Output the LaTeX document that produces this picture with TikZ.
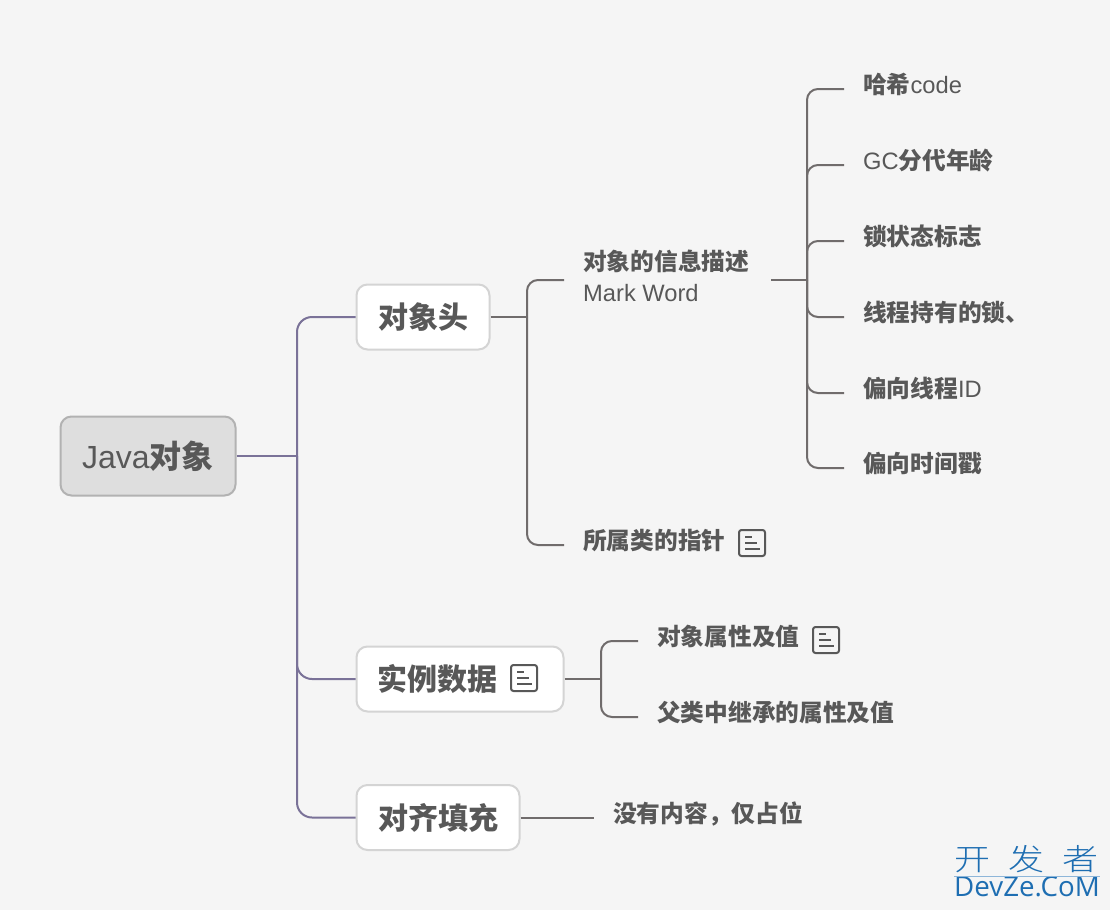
\documentclass[tikz,border=0pt]{standalone}
\usepackage{fontspec}
\setmainfont{Liberation Sans}
\newfontfamily\cjk{Noto Sans CJK SC}
\newfontfamily\cjkthin{Noto Sans CJK SC Light}
\newfontfamily\wmlatin{Open Sans}
\newcommand{\zh}[1]{{\cjk\bfseries #1}}
\newlength{\du}
\setlength{\du}{1pt}
\definecolor{pagecolor}{RGB}{245,245,245}
\definecolor{inkcolor}{RGB}{88,88,88}
\definecolor{trunkcolor}{RGB}{122,114,152}
\definecolor{twigcolor}{RGB}{112,108,108}
\definecolor{wmcolor}{RGB}{30,110,178}
\tikzset{
  rootbox/.style={draw=black!30,fill=black!13,line width=2\du,rounded corners=11\du,inner sep=0pt,
    minimum width=175\du,minimum height=79\du,text=inkcolor,font=\fontsize{32}{36}\selectfont},
  mainbox/.style={draw=black!17,fill=white,line width=2\du,rounded corners=11\du,inner sep=0pt,
    minimum height=65\du,text=inkcolor,font=\fontsize{30}{34}\selectfont},
  leaftext/.style={inner xsep=19\du,inner ysep=0pt,anchor=west,text=inkcolor,
    font=\fontsize{23.7}{32}\selectfont},
  leaf/.style={leaftext,text height=20\du,text depth=11\du},
  trunk/.style={draw=trunkcolor,line width=2\du,rounded corners=15\du},
  twig/.style={draw=twigcolor,line width=2\du,rounded corners=11\du},
  noteicon/.pic={
    \draw[inkcolor,line width=2\du,rounded corners=2.5\du] (-13\du,-13\du) rectangle (13\du,13\du);
    \draw[inkcolor,line width=1.8\du] (-7\du,6\du) -- (0\du,6\du) (-7\du,0\du) -- (5\du,0\du) (-7\du,-6\du) -- (8\du,-6\du);
  },
}
\begin{document}
\begin{tikzpicture}
\pgftransformyscale{-1.000000}
\useasboundingbox (0\du,0\du) rectangle (1110\du,910\du);
\fill[pagecolor] (0\du,0\du) rectangle (1110\du,910\du);
% boxes
\node[rootbox] (root) at (148\du,456\du){\raisebox{1.5\du}{Java\zh{对象}}};
\node[mainbox,minimum width=133\du] (head) at (423\du,317\du){\zh{对象头}};
\node[mainbox,minimum width=207\du] (data) at (460\du,679\du){\zh{实例数据}\hspace*{45\du}};
\node[mainbox,minimum width=163\du] (pad) at (438\du,817.5\du){\zh{对齐填充}};
% second level
\node[leaftext,align=left] (info) at (564\du,280\du){\zh{对象的信息描述}\hspace*{3\du}\\[-1\du]Mark Word\rule[-9\du]{0pt}{1\du}};
\node[leaf] (klass) at (564\du,545\du){\zh{所属类的指针}};
\node[leaf] (attr) at (638\du,641\du){\zh{对象属性及值}};
\node[leaf] (inherit) at (638\du,717\du){\zh{父类中继承的属性及值}};
\node[leaf] (none) at (594\du,817.5\du){\zh{没有内容，仅占位}};
% third level
\node[leaf] (hash) at (844\du,89\du){\zh{哈希}code};
\node[leaf] (age) at (844\du,165\du){GC\zh{分代年龄}};
\node[leaf] (lock) at (844\du,241\du){\zh{锁状态标志}};
\node[leaf] (owner) at (844\du,317\du){\zh{线程持有的锁、}};
\node[leaf] (biasid) at (844\du,393\du){\zh{偏向线程}ID};
\node[leaf] (stamp) at (844\du,468\du){\zh{偏向时间戳}};
% bus points
\coordinate (rootbus) at (297\du,456\du);
\coordinate (headbus) at (527\du,317\du);
\coordinate (infobus) at (807\du,280\du);
\coordinate (databus) at (601\du,679\du);
% purple
\draw[trunkcolor,line width=2\du] (root.east) -- (rootbus);
\draw[trunk] (rootbus) |- (head.west);
\draw[trunk] (rootbus) |- (data.west);
\draw[trunk] (rootbus) |- (pad.west);
% grey
\draw[twigcolor,line width=2\du] (head.east) -- (headbus);
\draw[twig] (headbus) |- (info.west);
\draw[twig] (headbus) |- (klass.west);
\draw[twigcolor,line width=2\du] (data.east) -- (databus);
\draw[twig] (databus) |- (attr.west);
\draw[twig] (databus) |- (inherit.west);
\draw[twig] (pad.east) -- (none.west);
\draw[twigcolor,line width=2.6\du] (info.east) -- (infobus);
\draw[twig] (infobus) |- (hash.west);
\draw[twig] (infobus) |- (age.west);
\draw[twig] (infobus) |- (lock.west);
\draw[twig] (infobus) |- (owner.west);
\draw[twig] (infobus) |- (biasid.west);
\draw[twig] (infobus) |- (stamp.west);
% icons
\pic at (752\du,543\du) {noteicon};
\pic at (826\du,640\du) {noteicon};
\pic at (524\du,678\du) {noteicon};
% watermark
\node[inner sep=0pt,text=wmcolor,font=\fontsize{30}{34}\selectfont\cjkthin] (wmtop) at (1026.5\du,859\du){\scalebox{1.2}[1]{开\hspace{15\du}发\hspace{15\du}者}};
\node[inner sep=0pt,text=wmcolor,font=\fontsize{27.7}{32}\selectfont\wmlatin] (wmbottom) at (1027\du,887\du){DevZe.CoM};
\draw[draw=wmcolor!50,line width=1\du] (wmbottom.north west) -- (wmbottom.north east);
\end{tikzpicture}
\end{document}
